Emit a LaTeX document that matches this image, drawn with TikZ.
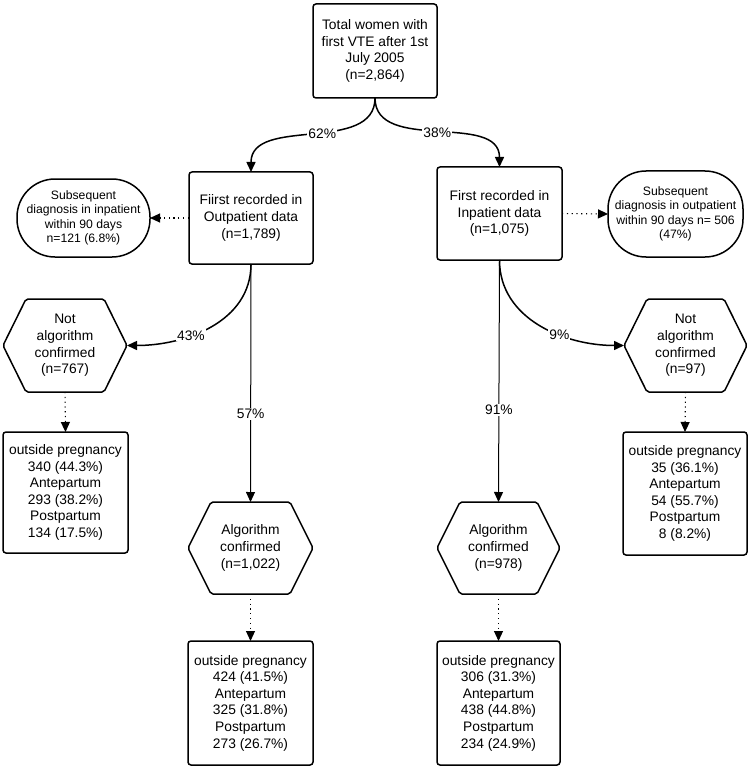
\documentclass[tikz,border=0pt]{standalone}
\usepackage{fontspec}
\setmainfont{Liberation Sans}
\usepackage{tikz}
\usetikzlibrary{arrows.meta}
\tikzset{
  vtebox/.style={draw=black, line width=1.5pt, rounded corners=3pt, align=center,
    inner sep=0pt, outer sep=0pt, minimum width=124pt},
  vtepill/.style={draw=black, line width=1.5pt, rounded corners=38pt, align=center,
    inner sep=0pt, outer sep=0pt, font=\fontsize{12.2}{14.4}\selectfont},
  vtehex/.style={align=center, inner sep=0pt, outer sep=0pt, minimum height=92pt},
  vteline/.style={line width=1.5pt, rounded corners=2pt},
  vtearrow/.style={-{Triangle[length=10pt,width=9pt]}, line width=1.5pt, draw=black},
  vtestraight/.style={-{Triangle[length=10pt,width=9pt]}, line width=1pt, draw=black},
  vtedots/.style={-{Triangle[length=10pt,width=9pt]}, line width=1.1pt, draw=black,
    dash pattern=on 1.2pt off 3.6pt},
  vtepct/.style={fill=white, inner sep=1pt}
}

\begin{document}
\begin{tikzpicture}[x=1pt, y=-1pt, every node/.style={font=\fontsize{13.8}{16.6}\selectfont}]
  \useasboundingbox (0,0) rectangle (750,770);
  \node[vtebox, minimum height=94pt] (total) at (375,51)
    {Total women with\\first VTE after 1st\\July 2005\\(n=2,864)};
  \node[vtebox, minimum height=92pt] (outpat) at (251,218)
    {Fiirst recorded in\\Outpatient data\\(n=1,789)};
  \node[vtebox, minimum height=93pt, minimum width=125pt] (inpat) at (499.5,213.5)
    {First recorded in\\Inpatient data\\(n=1,075)};
  \node[vtepill, minimum width=133pt, minimum height=78pt] (subin) at (83.5,218)
    {Subsequent\\diagnosis in inpatient\\within 90 days\\n=121 (6.8\%)};
  \node[vtepill, minimum width=135pt, minimum height=86pt] (subout) at (675.5,214)
    {Subsequent\\diagnosis in outpatient\\within 90 days n= 506\\(47\%)};
  \node[vtehex, minimum width=124pt, minimum height=93pt] (notout) at (65,345.5)
    {Not\\algorithm\\confirmed\\(n=767)};
  \node[vtehex, minimum width=123pt, minimum height=93pt] (notin) at (685.5,345.5)
    {Not\\algorithm\\confirmed\\(n=97)};
  \node[vtehex, minimum width=125pt] (algout) at (250.5,548)
    {Algorithm\\confirmed\\(n=1,022)};
  \node[vtehex, minimum width=123pt] (algin) at (498.5,548)
    {Algorithm\\confirmed\\(n=978)};
  \node[vtebox, minimum width=125pt, minimum height=121pt] (resnotout) at (65.5,492.5)
    {outside pregnancy\\340 (44.3\%)\\Antepartum\\293 (38.2\%)\\Postpartum\\134 (17.5\%)};
  \node[vtebox, minimum height=123pt] (resnotin) at (685,493.5)
    {outside pregnancy\\35 (36.1\%)\\Antepartum\\54 (55.7\%)\\Postpartum\\8 (8.2\%)};
  \node[vtebox, minimum width=125pt, minimum height=124pt] (resalgout) at (250.5,703)
    {outside pregnancy\\424 (41.5\%)\\Antepartum\\325 (31.8\%)\\Postpartum\\273 (26.7\%)};
  \node[vtebox, minimum width=123pt, minimum height=124pt] (resalgin) at (498.5,703)
    {outside pregnancy\\306 (31.3\%)\\Antepartum\\438 (44.8\%)\\Postpartum\\234 (24.9\%)};
  \foreach \h in {notout,notin,algout,algin}
    \draw[vteline] (\h.west) -- ([xshift=23pt]\h.north west) -- ([xshift=-23pt]\h.north east)
      -- (\h.east) -- ([xshift=-23pt]\h.south east) -- ([xshift=23pt]\h.south west) -- cycle;
  \draw[vtearrow] (total.south) to[out=-90, in=90] node[vtepct, pos=0.45] {62\%} (outpat.north);
  \draw[vtearrow] (total.south) to[out=-90, in=90] node[vtepct, pos=0.5] {38\%} (inpat.north);
  \draw[vtearrow] (outpat.south) to[out=-90, in=0] node[vtepct, pos=0.63] {43\%} (notout.east);
  \draw[vtearrow] (inpat.south) to[out=-90, in=180] node[vtepct, pos=0.63] {9\%} (notin.west);
  \draw[vtestraight] (outpat.south) -- node[vtepct, pos=0.63] {57\%} (algout.north);
  \draw[vtestraight] (inpat.south) -- node[vtepct, pos=0.62] {91\%} (algin.north);
  \draw[vtedots] (outpat.west) -- (subin.east);
  \draw[vtedots] (inpat.east) -- (subout.west);
  \draw[vtedots] (notout.south) -- (resnotout.north);
  \draw[vtedots] (notin.south) -- (resnotin.north);
  \draw[vtedots] (algout.south) -- (resalgout.north);
  \draw[vtedots] (algin.south) -- (resalgin.north);
\end{tikzpicture}
\end{document}
